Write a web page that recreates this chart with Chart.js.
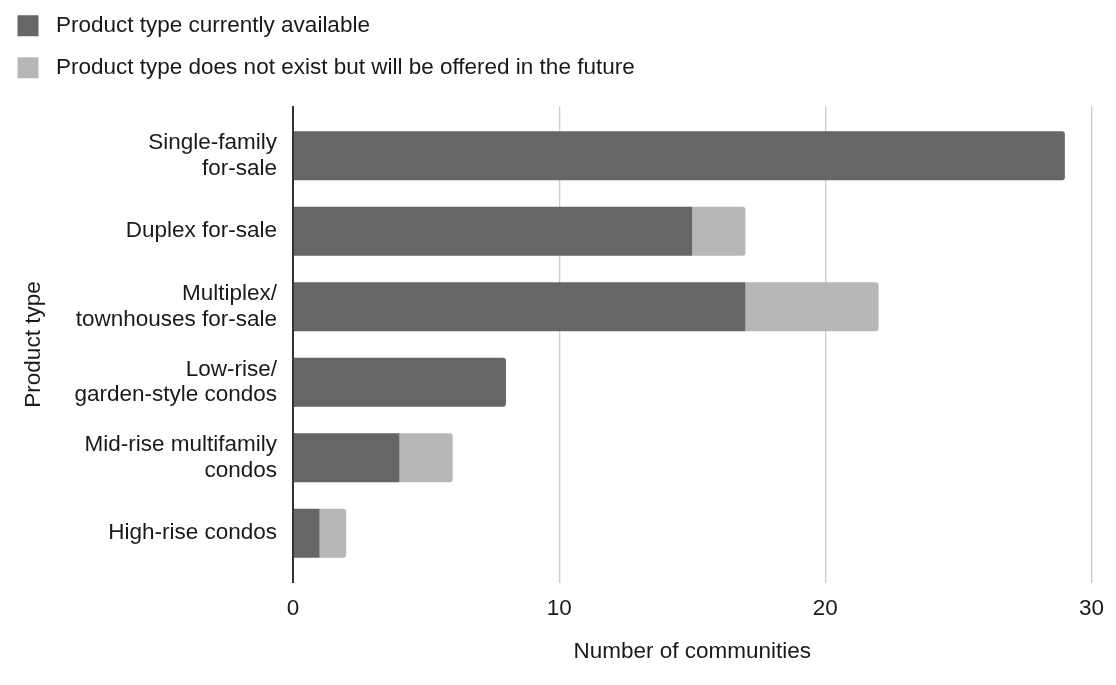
<!DOCTYPE html>
<html>
<head>
<meta charset="utf-8">
<script src="https://cdn.jsdelivr.net/npm/chart.js@4/dist/chart.umd.min.js"></script>
<style>
  html, body { margin: 0; padding: 0; background: #fff; }
  #wrap { width: 1116px; height: 685px; position: relative; }
</style>
</head>
<body>
<div id="wrap"><canvas id="c"></canvas></div>
<script>
const categories = [
  ["Single-family", "for-sale"],
  "Duplex for-sale",
  ["Multiplex/", "townhouses for-sale"],
  ["Low-rise/", "garden-style condos"],
  ["Mid-rise multifamily", "condos"],
  "High-rise condos"
];
const seriesNames = [
  "Product type currently available",
  "Product type does not exist but will be offered in the future"
];
const currentlyAvailable = [29, 15, 17, 8, 4, 1];
const futureOffered = [0, 2, 5, 0, 2, 1];
const xTicks = [0, 10, 20, 30];

const FONT = "'Liberation Sans', Arial, sans-serif";
const TEXT = '#1a1a1a';
const FS = 22.5;
const LEGEND_W = 760;

const legendWrap = {
  id: 'legendWrap',
  beforeLayout(chart) {
    const lg = chart.legend;
    if (lg && !lg._wrapped) {
      const orig = lg._fitRows;
      lg._fitRows = function (...args) {
        const mw = this.maxWidth;
        this.maxWidth = LEGEND_W;
        const r = orig.apply(this, args);
        this.maxWidth = mw;
        return r;
      };
      lg._wrapped = true;
    }
  },
  afterLayout(chart) {
    const lg = chart.legend;
    if (lg) { lg.right = lg.left + LEGEND_W; lg.width = LEGEND_W; }
  }
};

const gridColor = (ctx) => (ctx.tick && ctx.tick.value === 0) ? '#333333' : '#cccccc';
const gridWidth = (ctx) => (ctx.tick && ctx.tick.value === 0) ? 2 : 1.3;

new Chart(document.getElementById('c'), {
  type: 'bar',
  data: {
    labels: categories,
    datasets: [
      {
        label: seriesNames[0],
        data: currentlyAvailable,
        backgroundColor: '#666666',
        borderSkipped: 'start',
        borderRadius: (ctx) => (futureOffered[ctx.dataIndex] === 0 ? 3 : 0),
        barPercentage: 0.65,
        categoryPercentage: 1
      },
      {
        label: seriesNames[1],
        data: futureOffered,
        backgroundColor: '#b7b7b7',
        borderSkipped: 'start',
        borderRadius: 3,
        barPercentage: 0.65,
        categoryPercentage: 1
      }
    ]
  },
  options: {
    indexAxis: 'y',
    responsive: true,
    maintainAspectRatio: false,
    animation: false,
    layout: { padding: { left: -2, right: 23, top: -5, bottom: 20 } },
    plugins: {
      legend: {
        position: 'top',
        align: 'start',
        labels: {
          font: { family: FONT, size: FS },
          color: TEXT,
          boxWidth: 21,
          boxHeight: 21,
          padding: 19.5,
          generateLabels: (chart) => {
            const items = Chart.defaults.plugins.legend.labels.generateLabels(chart);
            items.forEach(it => { it.text = ' ' + it.text; });
            return items;
          }
        }
      },
      tooltip: { enabled: false }
    },
    scales: {
      x: {
        stacked: true,
        position: 'bottom',
        min: 0,
        max: 30,
        afterBuildTicks: (scale) => { scale.ticks = xTicks.map(v => ({ value: v })); },
        grid: {
          color: gridColor,
          lineWidth: gridWidth,
          tickColor: gridColor,
          tickWidth: gridWidth,
          tickLength: 12,
          drawTicks: true
        },
        border: { display: false },
        ticks: {
          font: { family: FONT, size: FS },
          color: TEXT,
          padding: 12
        },
        title: {
          display: true,
          text: 'Number of communities',
          font: { family: FONT, size: FS },
          color: TEXT,
          padding: { top: 4, bottom: 0 }
        }
      },
      xTop: {
        type: 'linear',
        position: 'top',
        min: 0,
        max: 30,
        afterBuildTicks: (scale) => { scale.ticks = xTicks.map(v => ({ value: v })); },
        afterFit: (scale) => { scale.height = 29; },
        grid: {
          drawOnChartArea: false,
          color: gridColor,
          lineWidth: gridWidth,
          tickColor: gridColor,
          tickWidth: gridWidth,
          tickLength: 12
        },
        border: { display: false },
        ticks: { display: false }
      },
      y: {
        stacked: true,
        afterFit: (scale) => { scale.width = 295; },
        grid: { display: false, drawTicks: false },
        border: { display: false },
        ticks: {
          font: { family: FONT, size: FS, lineHeight: 1.15 },
          color: TEXT,
          padding: 16
        },
        title: {
          display: true,
          text: 'Product type',
          font: { family: FONT, size: FS },
          color: TEXT,
          padding: { top: 22, bottom: 0 }
        }
      }
    }
  },
  plugins: [legendWrap]
});
</script>
</body>
</html>
